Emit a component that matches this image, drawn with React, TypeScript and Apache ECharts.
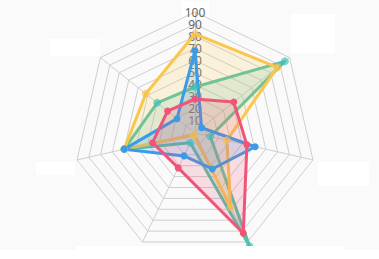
import React, { useEffect, useRef } from "react";
import * as echarts from "echarts";

const indicatorNames = ["", "", "", "", "", "", ""];
const tickMax = 100;

const yellowValues = [82, 52, 60, 2, 68, 27, 87];
const greenValues = [38, 40, 60, 9, 104, 13, 95];
const blueValues = [68, 19, 60, 21, 33, 51, 7];
const pinkValues = [28, 29, 36, 32, 92, 44, 41];

const seriesDefs = [
  { name: "A", values: greenValues, color: "#55c3a6", marker: "#3cbfbd", hollow: true },
  { name: "B", values: yellowValues, color: "#fbc64c", marker: "#f5c051", hollow: true },
  { name: "C", values: blueValues, color: "#3b9ce6", marker: "#3b9ce6", hollow: false },
  { name: "D", values: pinkValues, color: "#f05579", marker: "#f05579", hollow: false },
];

export default function App() {
  const ref = useRef<HTMLDivElement>(null);
  useEffect(() => {
    document.body.style.margin = "0";
    const chart = echarts.init(ref.current!, undefined, { renderer: "svg" });
    const white = { fill: "#ffffff" };
    chart.setOption({
      animation: false,
      backgroundColor: "#fafafa",
      radar: {
        center: [195, 133],
        radius: 121,
        startAngle: 90,
        shape: "polygon",
        splitNumber: 10,
        axisName: { show: false },
        splitLine: { lineStyle: { color: "#cfcfcf", width: 1 } },
        splitArea: { show: false },
        axisLine: { lineStyle: { color: "#cfcfcf", width: 1 } },
        axisTick: { show: false },
        axisLabel: { show: false },
        indicator: indicatorNames.map((n, i) =>
          i === 0
            ? {
                name: n,
                min: 0,
                max: tickMax,
                axisLabel: {
                  show: true,
                  showMinLabel: false,
                  margin: 0,
                  align: "center",
                  verticalAlign: "middle",
                  color: "#666666",
                  fontSize: 12,
                  fontFamily: "Noto Sans",
                },
              }
            : { name: n, min: 0, max: tickMax }
        ),
      },
      graphic: [
        { type: "rect", shape: { x: 182, y: 1, width: 27, height: 18 }, style: white, z: -1 },
        { type: "rect", shape: { x: 50, y: 39, width: 50, height: 17 }, style: white },
        { type: "rect", shape: { x: 291, y: 14, width: 44, height: 39 }, style: white },
        { type: "rect", shape: { x: 36, y: 162, width: 39, height: 13 }, style: white },
        { type: "rect", shape: { x: 318, y: 162, width: 51, height: 24 }, style: white },
        { type: "rect", shape: { x: 76, y: 246, width: 267, height: 10 }, style: white, z: 100 },
      ],
      series: seriesDefs.map((s) => ({
        type: "radar",
        name: s.name,
        symbol: "circle",
        symbolSize: 7,
        lineStyle: { color: s.color, width: 3 },
        itemStyle: s.hollow
          ? { color: s.marker, opacity: 0.6, borderColor: s.marker, borderWidth: 1 }
          : { color: s.marker },
        areaStyle: { color: s.color, opacity: 0.18 },
        data: [{ value: s.values, name: s.name }],
      })),
    });
    return () => chart.dispose();
  }, []);
  return <div ref={ref} style={{ width: 379, height: 250 }} />;
}
